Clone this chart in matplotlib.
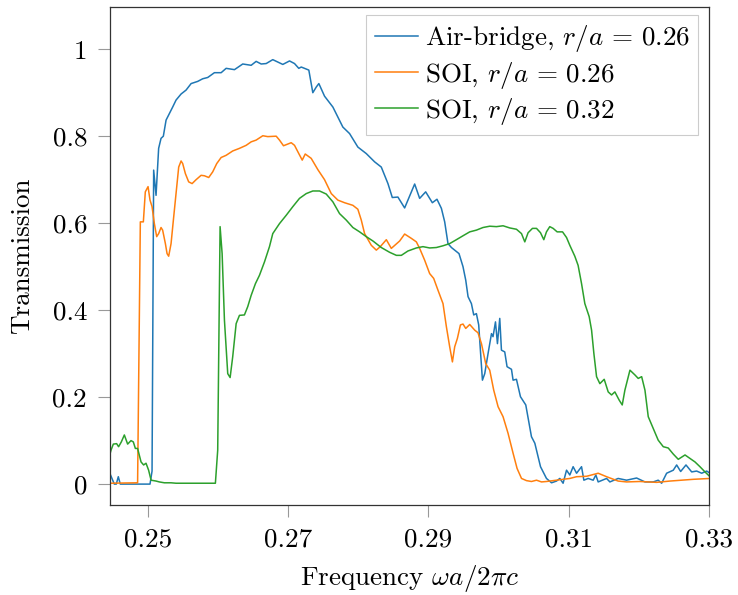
import matplotlib
matplotlib.use("Agg")
import matplotlib.pyplot as plt
from matplotlib.ticker import FixedLocator, FixedFormatter

plt.rcParams['font.family'] = 'serif'
plt.rcParams['font.serif'] = ['cmr10', 'DejaVu Serif']
plt.rcParams['mathtext.fontset'] = 'cm'
plt.rcParams['axes.unicode_minus'] = False

# ---- data ----
air_x = [0.24450, 0.24522, 0.24550, 0.24579, 0.24607, 0.25031, 0.25060, 0.25083, 0.25117, 0.25154,
         0.25188, 0.25221, 0.25260, 0.25307, 0.25354, 0.25402, 0.25474, 0.25545, 0.25617, 0.25711,
         0.25782, 0.25854, 0.25949, 0.26045, 0.26116, 0.26235, 0.26353, 0.26473, 0.26544, 0.26616,
         0.26687, 0.26781, 0.26924, 0.27020, 0.27091, 0.27152, 0.27187, 0.27295, 0.27352, 0.27401,
         0.27438, 0.27519, 0.27638, 0.27780, 0.27876, 0.27994, 0.28114, 0.28233, 0.28328, 0.28423,
         0.28485, 0.28565, 0.28661, 0.28804, 0.28875, 0.28961, 0.29056, 0.29122, 0.29185, 0.29232,
         0.29279, 0.29328, 0.29436, 0.29493, 0.29532, 0.29565, 0.29613, 0.29646, 0.29684, 0.29717,
         0.29741, 0.29770, 0.29803, 0.29850, 0.29899, 0.29921, 0.29956, 0.29984, 0.30017, 0.30041,
         0.30088, 0.30121, 0.30184, 0.30207, 0.30255, 0.30312, 0.30388, 0.30469, 0.30517, 0.30598,
         0.30683, 0.30755, 0.30826, 0.30873, 0.30920, 0.30969, 0.31016, 0.31063, 0.31112, 0.31183,
         0.31216, 0.31277, 0.31349, 0.31387, 0.31420, 0.31540, 0.31587, 0.31705, 0.31825, 0.31968,
         0.32087, 0.32205, 0.32276, 0.32325, 0.32396, 0.32491, 0.32539, 0.32596, 0.32672, 0.32753,
         0.32824, 0.32896, 0.32967, 0.33014]
air_y = [0.028, 0.000, 0.000, 0.017, 0.000, 0.000, 0.030, 0.722, 0.664, 0.772,
         0.795, 0.800, 0.837, 0.852, 0.867, 0.883, 0.897, 0.906, 0.921, 0.926,
         0.932, 0.935, 0.946, 0.946, 0.956, 0.953, 0.966, 0.963, 0.972, 0.966,
         0.967, 0.976, 0.965, 0.973, 0.967, 0.956, 0.959, 0.952, 0.900, 0.913,
         0.921, 0.892, 0.867, 0.821, 0.806, 0.775, 0.760, 0.741, 0.729, 0.691,
         0.659, 0.660, 0.635, 0.690, 0.657, 0.672, 0.647, 0.655, 0.634, 0.603,
         0.553, 0.544, 0.530, 0.500, 0.469, 0.431, 0.415, 0.389, 0.392, 0.366,
         0.308, 0.239, 0.254, 0.300, 0.346, 0.339, 0.373, 0.323, 0.381, 0.308,
         0.304, 0.270, 0.264, 0.239, 0.241, 0.201, 0.182, 0.109, 0.094, 0.040,
         0.013, 0.003, 0.007, 0.013, 0.002, 0.032, 0.021, 0.040, 0.025, 0.040,
         0.009, 0.013, 0.009, 0.021, 0.005, 0.013, 0.005, 0.013, 0.009, 0.014,
         0.005, 0.005, 0.009, 0.002, 0.025, 0.032, 0.044, 0.029, 0.044, 0.028,
         0.030, 0.025, 0.030, 0.025]

soi26_x = [0.24450, 0.24854, 0.24893, 0.24936, 0.24964, 0.25003, 0.25031, 0.25060, 0.25093, 0.25126,
           0.25154, 0.25188, 0.25211, 0.25250, 0.25274, 0.25297, 0.25331, 0.25364, 0.25402, 0.25440,
           0.25474, 0.25497, 0.25535, 0.25582, 0.25631, 0.25688, 0.25759, 0.25806, 0.25868, 0.25925,
           0.25982, 0.26045, 0.26116, 0.26210, 0.26306, 0.26402, 0.26473, 0.26544, 0.26639, 0.26710,
           0.26830, 0.26877, 0.26934, 0.27044, 0.27091, 0.27152, 0.27201, 0.27244, 0.27329, 0.27424,
           0.27519, 0.27615, 0.27709, 0.27805, 0.27923, 0.27994, 0.28043, 0.28090, 0.28186, 0.28257,
           0.28314, 0.28400, 0.28471, 0.28590, 0.28661, 0.28757, 0.28828, 0.28875, 0.28946, 0.29018,
           0.29075, 0.29136, 0.29208, 0.29256, 0.29303, 0.29342, 0.29375, 0.29413, 0.29456, 0.29493,
           0.29532, 0.29589, 0.29660, 0.29707, 0.29756, 0.29817, 0.29874, 0.29931, 0.29993, 0.30064,
           0.30135, 0.30207, 0.30264, 0.30327, 0.30398, 0.30469, 0.30541, 0.30612, 0.30683, 0.30826,
           0.31016, 0.31112, 0.31255, 0.31420, 0.31540, 0.31705, 0.31825, 0.32015, 0.32254, 0.32443,
           0.32776, 0.33014]
soi26_y = [0.002, 0.003, 0.603, 0.603, 0.672, 0.684, 0.653, 0.638, 0.599, 0.569,
           0.576, 0.590, 0.584, 0.553, 0.530, 0.524, 0.553, 0.607, 0.668, 0.729,
           0.743, 0.737, 0.714, 0.695, 0.691, 0.700, 0.710, 0.709, 0.705, 0.718,
           0.737, 0.751, 0.756, 0.766, 0.772, 0.779, 0.787, 0.791, 0.801, 0.799,
           0.800, 0.791, 0.778, 0.785, 0.779, 0.760, 0.745, 0.759, 0.749, 0.723,
           0.700, 0.668, 0.653, 0.647, 0.641, 0.632, 0.607, 0.576, 0.549, 0.538,
           0.546, 0.562, 0.542, 0.559, 0.575, 0.565, 0.557, 0.542, 0.515, 0.484,
           0.473, 0.446, 0.415, 0.362, 0.316, 0.281, 0.316, 0.335, 0.366, 0.368,
           0.358, 0.367, 0.354, 0.348, 0.323, 0.277, 0.262, 0.216, 0.178, 0.155,
           0.117, 0.071, 0.036, 0.013, 0.008, 0.006, 0.009, 0.005, 0.006, 0.009,
           0.013, 0.017, 0.018, 0.025, 0.017, 0.007, 0.005, 0.006, 0.004, 0.007,
           0.011, 0.013]

soi32_x = [0.24450, 0.24475, 0.24508, 0.24555, 0.24583, 0.24622, 0.24665, 0.24712, 0.24760, 0.24793,
           0.24822, 0.24854, 0.24903, 0.24940, 0.24974, 0.25011, 0.25046, 0.25117, 0.25164, 0.25236,
           0.25331, 0.25402, 0.25639, 0.25963, 0.25996, 0.26030, 0.26059, 0.26092, 0.26139, 0.26173,
           0.26210, 0.26259, 0.26306, 0.26377, 0.26424, 0.26473, 0.26534, 0.26591, 0.26663, 0.26734,
           0.26781, 0.26877, 0.26972, 0.27067, 0.27162, 0.27258, 0.27352, 0.27448, 0.27543, 0.27638,
           0.27733, 0.27829, 0.27923, 0.28019, 0.28114, 0.28209, 0.28328, 0.28447, 0.28543, 0.28614,
           0.28708, 0.28828, 0.28922, 0.29018, 0.29113, 0.29208, 0.29303, 0.29399, 0.29493, 0.29589,
           0.29684, 0.29778, 0.29874, 0.29970, 0.30064, 0.30160, 0.30255, 0.30327, 0.30374, 0.30421,
           0.30483, 0.30541, 0.30598, 0.30645, 0.30683, 0.30730, 0.30778, 0.30835, 0.30912, 0.30969,
           0.31016, 0.31087, 0.31134, 0.31183, 0.31230, 0.31292, 0.31326, 0.31359, 0.31397, 0.31444,
           0.31506, 0.31563, 0.31611, 0.31658, 0.31720, 0.31763, 0.31801, 0.31873, 0.31944, 0.31991,
           0.32040, 0.32087, 0.32134, 0.32205, 0.32276, 0.32348, 0.32419, 0.32491, 0.32562, 0.32658,
           0.32729, 0.32800, 0.32871, 0.32943, 0.33014]
soi32_y = [0.063, 0.078, 0.092, 0.093, 0.086, 0.097, 0.113, 0.092, 0.100, 0.097,
           0.082, 0.082, 0.051, 0.044, 0.048, 0.032, 0.009, 0.007, 0.005, 0.003,
           0.003, 0.002, 0.002, 0.002, 0.078, 0.592, 0.530, 0.377, 0.254, 0.245,
           0.293, 0.369, 0.388, 0.389, 0.408, 0.434, 0.461, 0.480, 0.511, 0.546,
           0.576, 0.599, 0.618, 0.638, 0.657, 0.668, 0.674, 0.674, 0.667, 0.649,
           0.622, 0.607, 0.590, 0.580, 0.569, 0.559, 0.544, 0.533, 0.526, 0.526,
           0.536, 0.543, 0.546, 0.543, 0.544, 0.548, 0.553, 0.562, 0.571, 0.580,
           0.584, 0.590, 0.593, 0.592, 0.594, 0.589, 0.586, 0.576, 0.557, 0.578,
           0.588, 0.588, 0.578, 0.562, 0.580, 0.592, 0.588, 0.580, 0.580, 0.567,
           0.549, 0.524, 0.503, 0.461, 0.415, 0.385, 0.354, 0.300, 0.247, 0.231,
           0.241, 0.212, 0.205, 0.212, 0.193, 0.182, 0.216, 0.262, 0.251, 0.243,
           0.247, 0.216, 0.155, 0.128, 0.101, 0.086, 0.083, 0.069, 0.057, 0.067,
           0.059, 0.051, 0.040, 0.028, 0.017]

labels = [r"Air-bridge, $r/a \,=\, 0.26$", r"SOI, $r/a \,=\, 0.26$", r"SOI, $r/a \,=\, 0.32$"]
colors = ["#1f77b4", "#ff7f0e", "#2ca02c"]

x_ticks = [0.25, 0.27, 0.29, 0.31, 0.33]
x_ticklabels = ["0.25", "0.27", "0.29", "0.31", "0.33"]
y_ticks = [0, 0.2, 0.4, 0.6, 0.8, 1.0]
y_ticklabels = ["0", "0.2", "0.4", "0.6", "0.8", "1"]

FS = 19.5

fig = plt.figure(figsize=(7.38, 5.95), dpi=100)
ax = fig.add_axes([0.149, 0.1513, 0.8117, 0.8369])

for xs, ys, lab, c in zip([air_x, soi26_x, soi32_x], [air_y, soi26_y, soi32_y], labels, colors):
    ax.plot(xs, ys, color=c, lw=1.1, label=lab)

ax.set_xlim(0.2446, 0.33)
ax.set_ylim(-0.048, 1.097)
ax.xaxis.set_major_locator(FixedLocator(x_ticks))
ax.xaxis.set_major_formatter(FixedFormatter(x_ticklabels))
ax.yaxis.set_major_locator(FixedLocator(y_ticks))
ax.yaxis.set_major_formatter(FixedFormatter(y_ticklabels))
ax.tick_params(direction='out', length=8.5, width=0.8, color='#999999', labelsize=FS, pad=8)
for s in ax.spines.values():
    s.set_color('#333333')
    s.set_linewidth(0.9)

ax.set_xlabel(r"Frequency $\omega a/2\pi c$", fontsize=FS, labelpad=8)
ax.set_ylabel("Transmission", fontsize=FS, labelpad=13)

leg = ax.legend(loc='upper right', fontsize=FS, frameon=True, fancybox=False,
                edgecolor='#cccccc', framealpha=1.0, handlelength=1.6,
                borderpad=0.3, labelspacing=0.2, handletextpad=0.25,
                borderaxespad=0.0, bbox_to_anchor=(0.9816, 0.984))
leg.get_frame().set_linewidth(0.8)

fig.savefig("out.png", dpi=100)
